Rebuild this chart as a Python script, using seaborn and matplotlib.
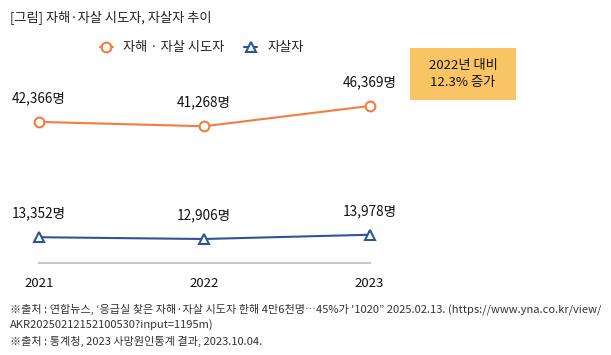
import matplotlib
matplotlib.use("Agg")
import matplotlib.pyplot as plt
import seaborn as sns
import pandas as pd
from matplotlib.patches import Rectangle
from matplotlib.lines import Line2D

years = [2021, 2022, 2023]
attempts = [42366, 41268, 46369]
suicides = [13352, 12906, 13978]
series_names = ["자해·자살 시도자", "자살자"]
legend_labels = ["자해 · 자살 시도자", "자살자"]
title = "[그림] 자해·자살 시도자, 자살자 추이"
box_text = "2022년 대비\n12.3% 증가"
notes = [
    "※출처 : 연합뉴스, ‘응급실 찾은 자해·자살 시도자 한해 4만6천명…45%가 '1020” 2025.02.13. (https://www.yna.co.kr/view/",
    "AKR20250212152100530?input=1195m)",
    "※출처 : 통계청, 2023 사망원인통계 결과, 2023.10.04.",
]

sns.set_theme(style="white")
plt.rcParams['font.family'] = ['Noto Sans CJK KR', 'DejaVu Sans']

df = pd.DataFrame({
    "year": years * 2,
    "value": attempts + suicides,
    "series": [series_names[0]] * 3 + [series_names[1]] * 3,
})

orange = "#F47C3C"
blue = "#2F5597"
W, H = 611, 355
fig = plt.figure(figsize=(W / 100, H / 100), dpi=100)
ax = fig.add_axes([38.7 / W, (H - 262.7) / H, (369.5 - 38.7) / W, 172.7 / H])

sns.lineplot(data=df, x="year", y="value", hue="series", style="series",
             palette=[orange, blue], markers=["o", "^"], dashes=False,
             markersize=7, markeredgewidth=1.5, markerfacecolor="white",
             linewidth=1.5, ax=ax, legend=False, clip_on=False)
for l, c in zip(ax.lines, [orange, blue]):
    l.set_markeredgecolor(c)
    l.set_markerfacecolor("white")
    l.set_clip_on(False)

ax.set_xlim(2021, 2023)
ax.set_ylim(6944, 50390)
ax.set_xticks(years)
ax.set_xticklabels([str(y) for y in years], fontsize=9.5, color="#111111")
ax.tick_params(axis="x", length=0, pad=10)
ax.set_yticks([])
ax.set_xlabel("")
ax.set_ylabel("")
for s in ["top", "right", "left"]:
    ax.spines[s].set_visible(False)
ax.spines["bottom"].set_color("#C8C8C8")
ax.spines["bottom"].set_linewidth(1.5)

for vals in (attempts, suicides):
    for x, v in zip(years, vals):
        ax.annotate(f"{v:,}명", (x, v), xytext=(0, 12), textcoords="offset points",
                    ha="center", va="bottom", fontsize=9.8, color="#111111")

fig.text(10 / W, 1 - 18 / H, title, fontsize=9.5, color="#222222", va="center", ha="left")

handles = [
    Line2D([], [], color=orange, marker="o", markersize=7, markeredgewidth=1.5,
           markerfacecolor="white", linewidth=1.5),
    Line2D([], [], color=blue, marker="^", markersize=7, markeredgewidth=1.5,
           markerfacecolor="white", linewidth=1.5),
]
fig.legend(handles, legend_labels, loc="center left", bbox_to_anchor=(88 / W, 1 - 48 / H),
           ncol=2, frameon=False, fontsize=9.5, handlelength=1.0, columnspacing=1.5,
           handletextpad=0.75)

fig.patches.append(Rectangle((410 / W, 1 - 100 / H), 106 / W, 52 / H,
                             transform=fig.transFigure, facecolor="#F9C464",
                             edgecolor="none"))
fig.text(463 / W, 1 - 74 / H, box_text, ha="center", va="center", fontsize=9.5,
         color="#111111", linespacing=1.4)

for i, n in enumerate(notes):
    fig.text(10 / W, 1 - (309 + 16 * i) / H, n, fontsize=8.0, color="#333333",
             va="center", ha="left")

fig.savefig("out.png", dpi=100)
